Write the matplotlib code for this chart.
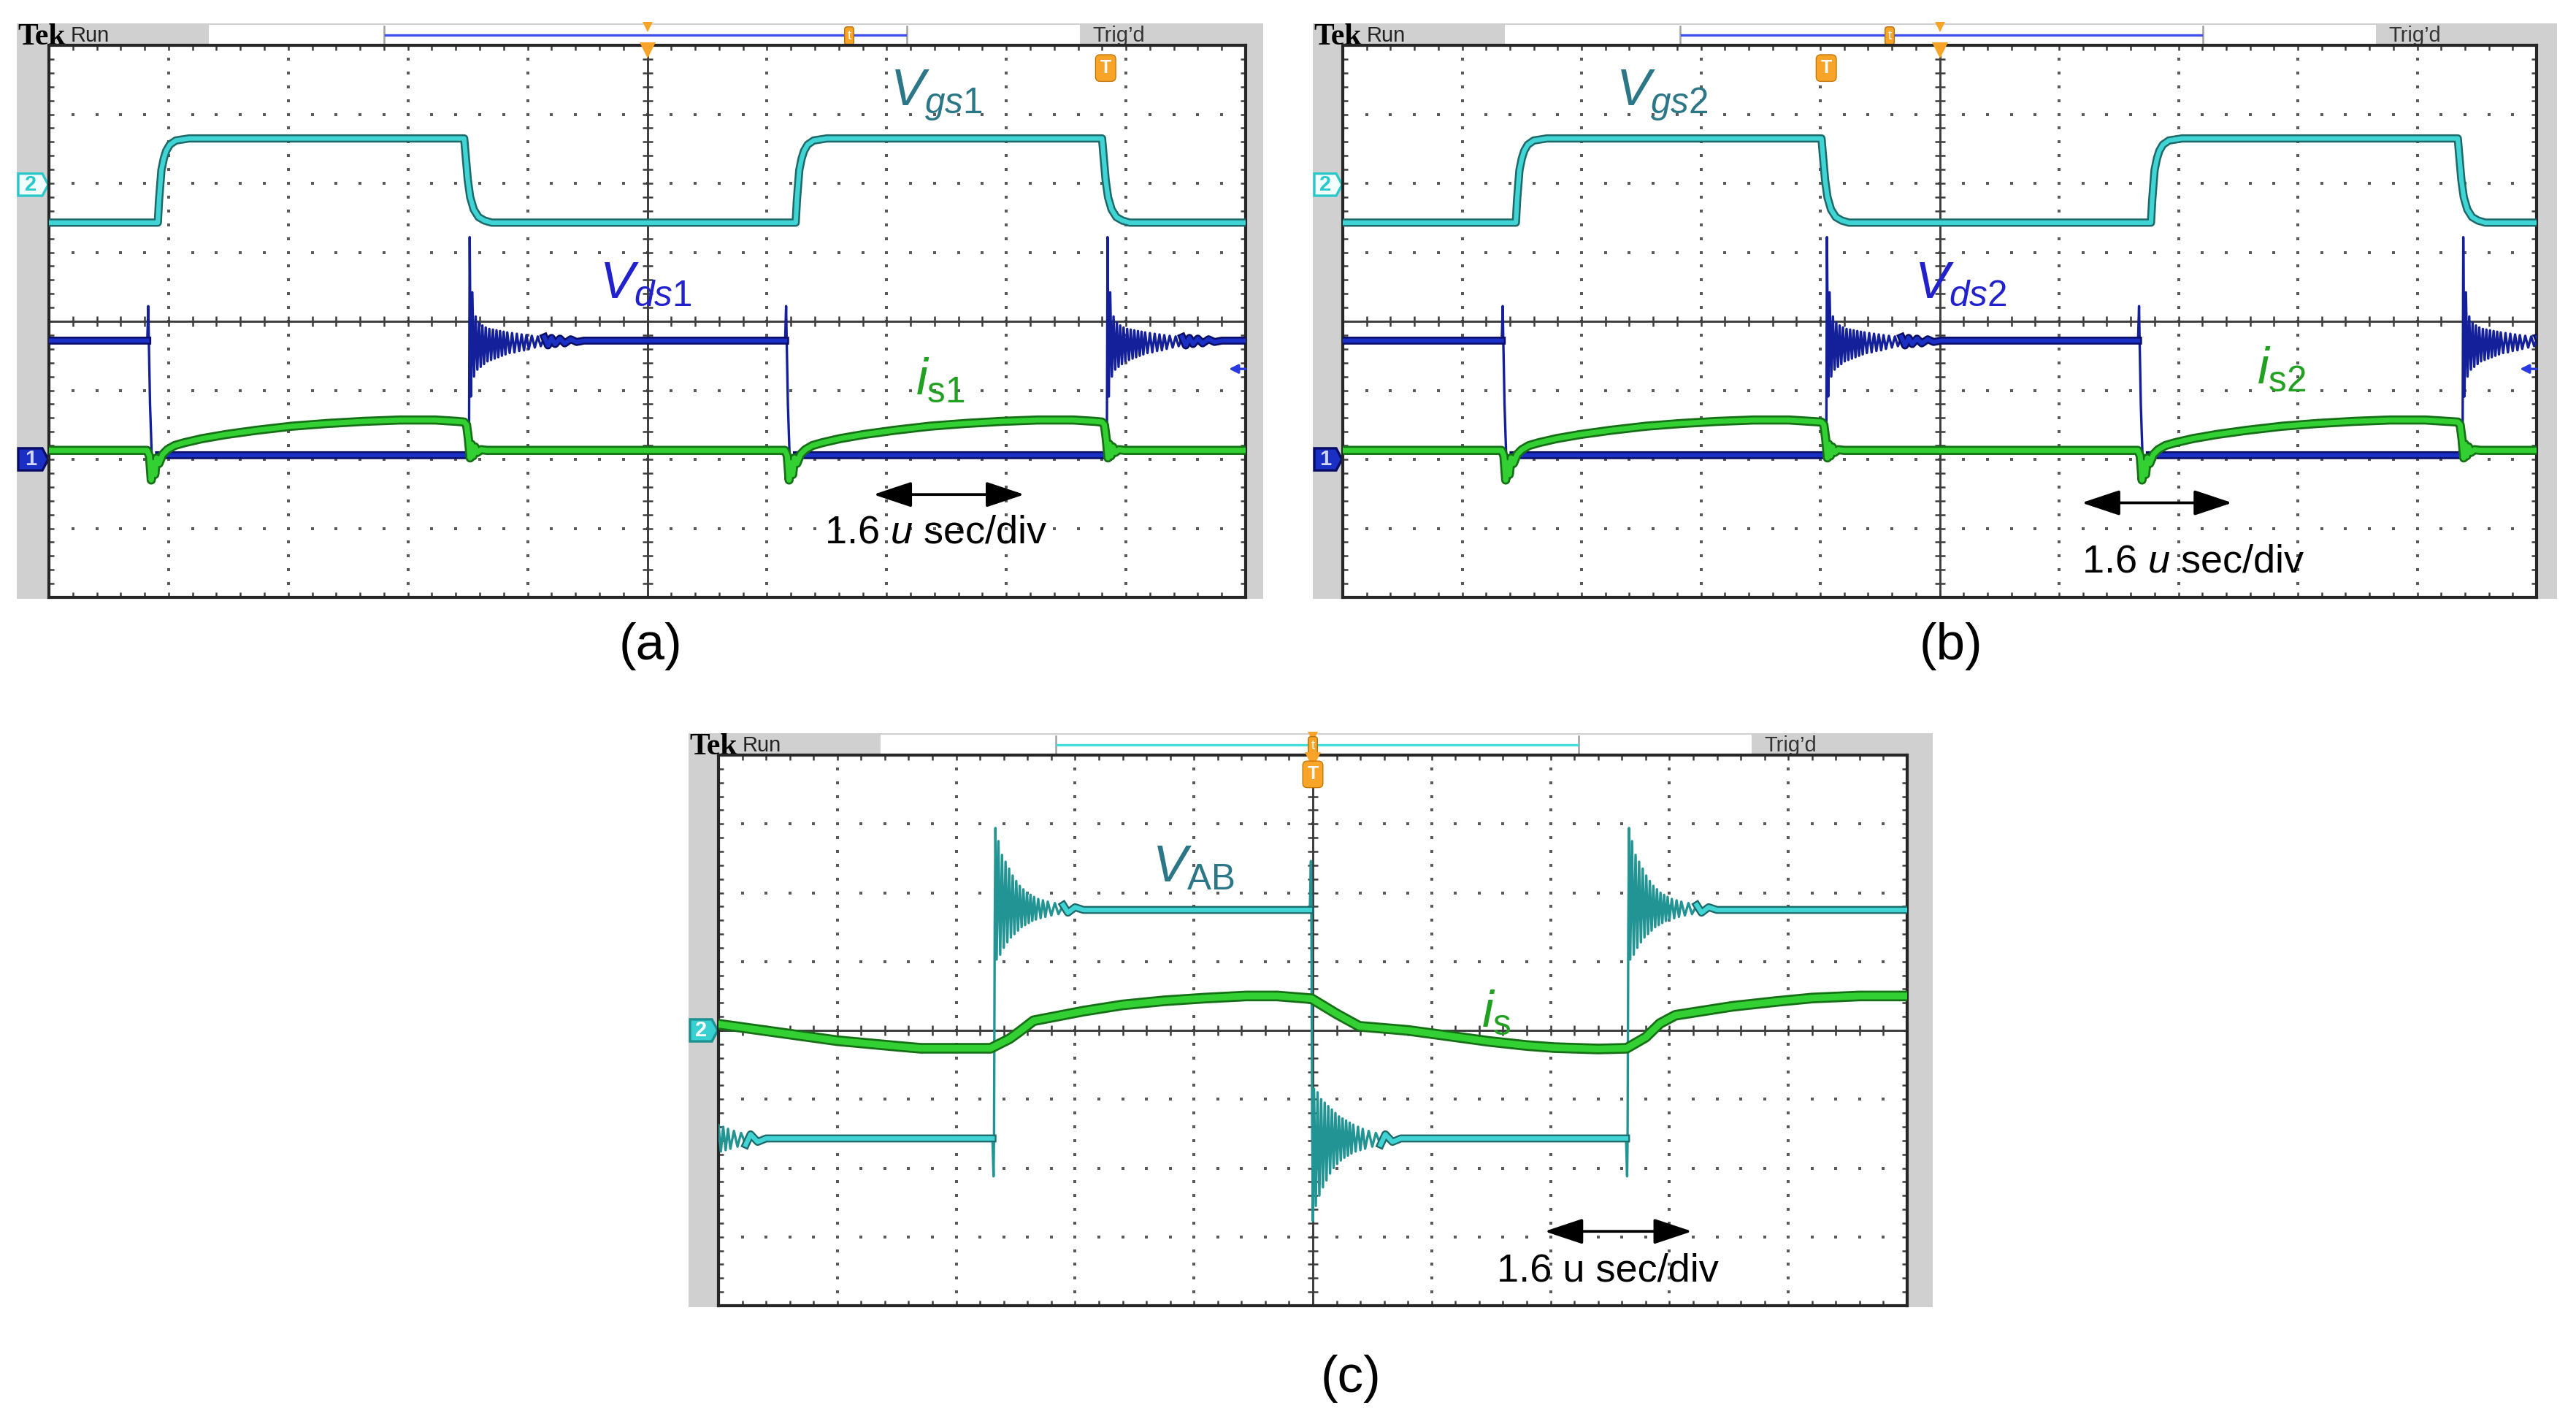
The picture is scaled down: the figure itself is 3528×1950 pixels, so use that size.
import numpy as np
import matplotlib
matplotlib.use('Agg')
import matplotlib.pyplot as plt
import matplotlib.patheffects as pe
from matplotlib.patches import Rectangle, Polygon
from matplotlib.transforms import blended_transform_factory as btf

# ---------------- data (units: screen divisions) ----------------
# x: 0..10 div (1.6 us/div); y: -4..4 div, 0 = centre line of the graticule
VGS_LOW, VGS_HIGH = 1.43, 2.65
VDS_HIGH, VDS_LOW = -0.28, -1.94
IS_BASE = -1.87
VAB_HIGH, VAB_LOW = 1.75, -1.57

# panel (a): edge times
A_VGS_RISE = [0.91, 6.24]
A_VGS_FALL = [3.47, 8.80]
A_VDS_FALL = [0.83, 6.16]
A_VDS_RISE = [3.51, 8.84]
# panel (b): edge times
B_VGS_RISE = [1.45, 6.77]
B_VGS_FALL = [4.01, 9.34]
B_VDS_FALL = [1.34, 6.67]
B_VDS_RISE = [4.05, 9.38]
# panel (c): edge times and primary current
C_VAB_RISE = [2.32, 7.65]
C_VAB_FALL = [-0.35, 4.99]
C_IS_X = [0.0, 0.5, 1.0, 1.5, 1.7, 2.29, 2.45, 2.53, 2.65, 3.07, 3.4, 3.75, 4.1, 4.44,
          4.7, 4.99, 5.2, 5.39, 5.8, 6.1, 6.48, 6.8, 7.03, 7.4, 7.64, 7.8, 7.92, 8.05,
          8.53, 8.9, 9.2, 9.6, 10.0]
C_IS_Y = [0.09, -0.03, -0.15, -0.23, -0.26, -0.26, -0.12, -0.02, 0.14, 0.28, 0.37, 0.43,
          0.47, 0.50, 0.50, 0.46, 0.24, 0.06, 0.0, -0.07, -0.16, -0.22, -0.25, -0.27,
          -0.26, -0.10, 0.10, 0.22, 0.35, 0.42, 0.47, 0.50, 0.50]

# edge shapes (offset from edge time, level)
VGS_RISE_DT = [0.0, 0.01, 0.03, 0.05, 0.07, 0.10, 0.15, 0.26]
VGS_RISE_Y = [1.43, 1.75, 2.19, 2.36, 2.47, 2.56, 2.62, 2.65]
VGS_FALL_DT = [0.0, 0.01, 0.03, 0.05, 0.08, 0.12, 0.17, 0.23]
VGS_FALL_Y = [2.65, 2.45, 2.05, 1.80, 1.62, 1.51, 1.46, 1.43]

VDS_FALL_DT = [-0.008, 0.0, 0.004, 0.015, 0.03, 0.09]
VDS_FALL_Y = [-0.28, 0.22, -0.20, -1.20, -2.00, -1.94]
VDS_RING_DT = [-0.006, 0.0, 0.006, 0.016, 0.028, 0.042, 0.056, 0.070, 0.084, 0.098, 0.112,
               0.126, 0.140, 0.155, 0.170, 0.185, 0.200, 0.215, 0.230, 0.245, 0.260, 0.275,
               0.290, 0.305, 0.320, 0.340, 0.360, 0.380, 0.400, 0.420, 0.440, 0.460, 0.480,
               0.500, 0.525, 0.550, 0.575, 0.600, 0.630, 0.660, 0.690, 0.720, 0.760, 0.800,
               0.850, 0.900, 0.960]
VDS_RING_Y = [-1.94, -2.02, 1.22, -1.09, 0.42, -0.80, 0.07, -0.70, -0.02, -0.66, -0.06,
              -0.62, -0.09, -0.58, -0.11, -0.56, -0.12, -0.54, -0.13, -0.52, -0.14, -0.50,
              -0.15, -0.48, -0.16, -0.46, -0.17, -0.45, -0.18, -0.43, -0.19, -0.42, -0.20,
              -0.40, -0.21, -0.38, -0.22, -0.36, -0.23, -0.35, -0.24, -0.33, -0.25, -0.32,
              -0.26, -0.30, -0.28]

IS_ON_DT = [-0.01, 0.01, 0.025, 0.04, 0.055, 0.07, 0.09, 0.12, 0.16, 0.22, 0.30, 0.45,
            0.65, 0.90, 1.20, 1.50, 1.80, 2.10, 2.40, 2.58]
IS_ON_Y = [-1.87, -1.95, -2.30, -2.05, -2.22, -1.98, -2.06, -1.93, -1.86, -1.80, -1.76,
           -1.70, -1.64, -1.58, -1.52, -1.48, -1.45, -1.43, -1.43, -1.45]
IS_OFF_DT = [-0.04, -0.02, -0.005, 0.01, 0.02, 0.035, 0.05, 0.07, 0.10, 0.15]
IS_OFF_Y = [-1.46, -1.50, -1.70, -1.98, -1.78, -1.95, -1.82, -1.90, -1.86, -1.87]

VAB_RISE_DT = [-0.015, -0.006, -0.002, 0.004, 0.010, 0.020, 0.035, 0.050, 0.065, 0.080,
               0.095, 0.110, 0.125, 0.140, 0.155, 0.170, 0.185, 0.200, 0.215, 0.230, 0.245,
               0.260, 0.275, 0.290, 0.305, 0.320, 0.335, 0.350, 0.370, 0.390, 0.410, 0.430,
               0.450, 0.480, 0.510, 0.540, 0.580, 0.620, 0.680, 0.750]
VAB_RISE_Y = [-1.57, -2.12, -1.55, 1.50, 2.94, 1.03, 2.75, 1.10, 2.55, 1.20, 2.45, 1.28,
              2.35, 1.35, 2.25, 1.40, 2.17, 1.45, 2.10, 1.50, 2.05, 1.53, 2.00, 1.56, 1.97,
              1.59, 1.94, 1.61, 1.91, 1.63, 1.89, 1.65, 1.87, 1.67, 1.85, 1.69, 1.82, 1.71,
              1.79, 1.75]
VAB_FALL_DT = VAB_RISE_DT
VAB_FALL_Y = [1.75, 2.46, 1.70, -1.20, -2.77, -0.85, -2.55, -0.90, -2.40, -1.00, -2.28,
              -1.05, -2.18, -1.10, -2.08, -1.15, -2.00, -1.20, -1.94, -1.25, -1.89, -1.28,
              -1.85, -1.31, -1.82, -1.34, -1.79, -1.37, -1.76, -1.40, -1.74, -1.43, -1.72,
              -1.46, -1.69, -1.49, -1.66, -1.51, -1.62, -1.57]

# ---------------- styling ----------------
W, H, DPI = 3528, 1950, 300
plt.rcParams['font.family'] = ['Liberation Sans', 'DejaVu Sans']
plt.rcParams['mathtext.fontset'] = 'custom'
plt.rcParams['mathtext.rm'] = 'Liberation Sans'
plt.rcParams['mathtext.it'] = 'Liberation Sans:italic'
plt.rcParams['mathtext.bf'] = 'Liberation Sans:bold'

CYAN, CYAN_E = '#40d4d4', '#1d6868'
BLUE, BLUE_E = '#1a2fc4', '#0a0d66'
GREEN, GREEN_E = '#33d033', '#157015'
ORANGE = '#f7a428'
TEAL_T, BLUE_T, GREEN_T = '#2c7787', '#2222cc', '#22a022'
GRAY = '#d0d0d0'

fig = plt.figure(figsize=(W / DPI, H / DPI), dpi=DPI)
bg = fig.add_axes([0, 0, 1, 1])
bg.set_xlim(0, W)
bg.set_ylim(H, 0)
bg.axis('off')


def build(start_y, events):
    xs, ys = [-1.0], [start_y]
    for t0, dts, vals in sorted(events, key=lambda e: e[0]):
        xs += [t0 + d for d in dts]
        ys += list(vals)
    xs.append(11.0)
    ys.append(ys[-1])
    return np.array(xs), np.array(ys)


def thick(ax, x, y, color, edge, lw, elw, z=3):
    ax.plot(x, y, color=color, lw=lw, solid_joinstyle='round', zorder=z,
            path_effects=[pe.Stroke(linewidth=elw, foreground=edge), pe.Normal()])


def masked(x, y, windows):
    m = np.zeros_like(x, dtype=bool)
    for a, b in windows:
        m |= (x > a) & (x < b)
    return np.ma.masked_where(m, y)


def panel(box, grat, line_color, trig_px, tmark_px):
    x0, y0, x1 = box
    gx0, gy0, gx1, gy1 = grat
    bg.add_patch(Rectangle((x0, y0), x1 - x0, gy1 + 2 - y0, fc=GRAY, ec='none', zorder=0))
    bg.add_patch(Rectangle((x0 + 263, y0 + 2), 1456 - 263, gy0 - y0 - 4, fc='white',
                           ec='none', zorder=1))
    ym = (y0 + gy0) / 2 + 1
    for bx in (x0 + 503, x0 + 1219):
        bg.plot([bx, bx], [y0 + 4, gy0 - 3], color='#a0a0a0', lw=0.6, zorder=2)
    bg.plot([x0 + 505, x0 + 1217], [ym, ym], color=line_color, lw=0.8, zorder=2)
    bg.text(x0 + 1, gy0 - 1, 'Tek', family=['Liberation Serif', 'DejaVu Serif'],
            weight='bold', fontsize=10, va='baseline', ha='left', zorder=3)
    bg.text(x0 + 74, gy0 - 5, 'Run', fontsize=7, color='#222222', va='baseline', zorder=3)
    bg.text(x0 + 1473, gy0 - 5, 'Trig\u2019d', fontsize=7, color='#333333',
            va='baseline', zorder=3)
    bg.plot([trig_px], [y0 + 5], marker='v', ms=3.5, color=ORANGE, mew=0, zorder=3)
    bg.text(tmark_px, ym + 1, 't', fontsize=4.5, color='white', ha='center', va='center',
            zorder=4, bbox=dict(boxstyle='round,pad=0.2', fc=ORANGE, ec='#b06a00', lw=0.3))
    ax = fig.add_axes([gx0 / W, 1 - gy1 / H, (gx1 - gx0) / W, (gy1 - gy0) / H])
    ax.set_xlim(0, 10)
    ax.set_ylim(-4, 4)
    ax.set_xticks([])
    ax.set_yticks([])
    for s in ax.spines.values():
        s.set_color('#262626')
        s.set_linewidth(1.0)
    fine = np.round(np.arange(1, 50) * 0.2, 2)
    fine_y = np.round(np.arange(1, 40) * 0.2 - 4, 2)
    gxs, gys = [], []
    for i in [1, 2, 3, 4, 6, 7, 8, 9]:
        gxs += [i] * len(fine_y)
        gys += list(fine_y)
    for j in [-3, -2, -1, 1, 2, 3]:
        gxs += list(fine)
        gys += [j] * len(fine)
    ax.plot(gxs, gys, ls='none', marker='s', ms=0.9, mew=0, color='#5a5a5a', zorder=1)
    for yy in (4, -4):
        ax.plot(fine, np.full_like(fine, yy), ls='none', marker='|', ms=3.2, mew=0.6,
                color='#404040', zorder=1)
    for xx in (0, 10):
        ax.plot(np.full_like(fine_y, xx), fine_y, ls='none', marker='_', ms=3.2, mew=0.6,
                color='#404040', zorder=1)
    ax.axhline(0, color='#3c3c3c', lw=0.7, zorder=1)
    ax.axvline(5, color='#3c3c3c', lw=0.7, zorder=1)
    ax.plot(fine, np.zeros_like(fine), ls='none', marker='|', ms=3.2, mew=0.6,
            color='#3c3c3c', zorder=1)
    ax.plot(np.full_like(fine_y, 5), fine_y, ls='none', marker='_', ms=3.2, mew=0.6,
            color='#3c3c3c', zorder=1)
    ax.plot([5], [3.93], marker='v', ms=5.5, color=ORANGE, mew=0, zorder=6, clip_on=False)
    return ax


def ch_marker(ax, x0, gx0, yv, num, fill, edge, tcol):
    tr = btf(bg.transData, ax.transData)
    pts = [(x0 + 2, yv - 0.16), (gx0 - 9, yv - 0.16), (gx0 - 1, yv), (gx0 - 9, yv + 0.16),
           (x0 + 2, yv + 0.16)]
    bg.add_patch(Polygon(pts, closed=True, fc=fill, ec=edge, lw=0.8, transform=tr, zorder=5))
    bg.text((x0 + gx0) / 2 - 3, yv, num, color=tcol, fontsize=7, fontweight='bold',
            ha='center', va='center', transform=tr, zorder=6)


def trig_T(ax, x, y):
    ax.text(x, y, 'T', fontsize=6, fontweight='bold', color='white', ha='center',
            va='center', zorder=7,
            bbox=dict(boxstyle='round,pad=0.25', fc=ORANGE, ec='#c07000', lw=0.3))


def dbl_arrow(ax, xa, xb, y):
    ax.annotate('', xy=(xb, y), xytext=(xa, y), zorder=6,
                arrowprops=dict(arrowstyle='<|-|>,head_length=0.6,head_width=0.2',
                                mutation_scale=18, color='black', lw=0.9,
                                shrinkA=0, shrinkB=0))


def switch_panel(ax, vgs_r, vgs_f, vds_f, vds_r):
    ev = [(t, VGS_RISE_DT, VGS_RISE_Y) for t in vgs_r] + \
         [(t, VGS_FALL_DT, VGS_FALL_Y) for t in vgs_f]
    x, y = build(VGS_LOW, ev)
    thick(ax, x, y, CYAN, CYAN_E, 1.5, 2.7)
    ev = [(t, VDS_FALL_DT, VDS_FALL_Y) for t in vds_f] + \
         [(t, VDS_RING_DT, VDS_RING_Y) for t in vds_r]
    x, y = build(VDS_HIGH, ev)
    ax.plot(x, y, color='#14209a', lw=0.8, zorder=3)
    win = [(t - 0.005, t + 0.08) for t in vds_f] + [(t - 0.003, t + 0.61) for t in vds_r]
    thick(ax, x, masked(x, y, win), BLUE, BLUE_E, 1.4, 2.6)
    ev = [(t, IS_ON_DT, IS_ON_Y) for t in vds_f] + \
         [(t, IS_OFF_DT, IS_OFF_Y) for t in vds_r]
    x, y = build(IS_BASE, ev)
    thick(ax, x, y, GREEN, GREEN_E, 1.7, 3.0, z=4)
    ax.annotate('', xy=(9.86, -0.69), xytext=(10.0, -0.69), zorder=6,
                arrowprops=dict(arrowstyle='-|>', color='#2a3ae0', lw=0.8,
                                mutation_scale=6, shrinkA=0, shrinkB=0))


# ---------------- panel (a) ----------------
axa = panel((23, 32, 1730), (67, 62, 1706, 818), '#3f4fe8', 887, 1163)
switch_panel(axa, A_VGS_RISE, A_VGS_FALL, A_VDS_FALL, A_VDS_RISE)
ch_marker(axa, 23, 67, 1.98, '2', '#f2ffff', '#2ac8c8', '#2ac8c8')
ch_marker(axa, 23, 67, -2.0, '1', '#1a2fc4', '#0a0d66', '#cfd6ff')
trig_T(axa, 8.83, 3.67)
axa.text(7.03, 3.13, r'$V_{\mathit{gs1}}$', color=TEAL_T, fontsize=17, va='baseline')
axa.text(4.60, 0.34, r'$V_{\mathit{ds1}}$', color=BLUE_T, fontsize=17, va='baseline')
axa.text(7.24, -1.06, r'$i_{\mathrm{s1}}$', color=GREEN_T, fontsize=17, va='baseline')
dbl_arrow(axa, 6.89, 8.15, -2.51)
axa.text(6.48, -3.21, r'1.6 $\mathit{u}$ sec/div', fontsize=13, va='baseline')

# ---------------- panel (b) ----------------
axb = panel((1798, 32, 3502), (1839, 62, 3474, 818), '#3f4fe8', 2657, 2588)
switch_panel(axb, B_VGS_RISE, B_VGS_FALL, B_VDS_FALL, B_VDS_RISE)
ch_marker(axb, 1798, 1839, 1.98, '2', '#f2ffff', '#2ac8c8', '#2ac8c8')
ch_marker(axb, 1798, 1839, -2.0, '1', '#1a2fc4', '#0a0d66', '#cfd6ff')
trig_T(axb, 4.05, 3.67)
axb.text(2.29, 3.13, r'$V_{\mathit{gs2}}$', color=TEAL_T, fontsize=17, va='baseline')
axb.text(4.79, 0.34, r'$V_{\mathit{ds2}}$', color=BLUE_T, fontsize=17, va='baseline')
axb.text(7.66, -0.90, r'$i_{\mathrm{s2}}$', color=GREEN_T, fontsize=17, va='baseline')
dbl_arrow(axb, 6.19, 7.45, -2.63)
axb.text(6.19, -3.64, r'1.6 $\mathit{u}$ sec/div', fontsize=13, va='baseline')

# ---------------- panel (c) ----------------
axc = panel((943, 1004, 2647), (984, 1034, 2612, 1788), '#44dede', 1798, 1798)
ev = [(t, VAB_RISE_DT, VAB_RISE_Y) for t in C_VAB_RISE] + \
     [(t, VAB_FALL_DT, VAB_FALL_Y) for t in C_VAB_FALL]
xv, yv = build(VAB_HIGH, ev)
axc.plot(xv, yv, color='#239494', lw=0.8, zorder=3)
winc = [(t - 0.01, t + 0.56) for t in C_VAB_RISE + C_VAB_FALL]
thick(axc, xv, masked(xv, yv, winc), CYAN, CYAN_E, 1.5, 2.6)
thick(axc, C_IS_X, C_IS_Y, GREEN, GREEN_E, 2.2, 3.5, z=4)
ch_marker(axc, 943, 984, 0.0, '2', '#38d0d0', '#1d9090', 'white')
trig_T(axc, 5.0, 3.72)
axc.text(3.65, 2.16, r'$V_{\mathrm{AB}}$', color=TEAL_T, fontsize=17, va='baseline')
axc.text(6.42, 0.05, r'$i_{\mathrm{s}}$', color=GREEN_T, fontsize=17, va='baseline')
dbl_arrow(axc, 6.95, 8.19, -2.92)
axc.text(6.55, -3.64, '1.6 u sec/div', fontsize=13, va='baseline')

# ---------------- captions ----------------
bg.text(891, 885, '(a)', fontsize=17, ha='center', va='center')
bg.text(2672, 885, '(b)', fontsize=17, ha='center', va='center')
bg.text(1850, 1888, '(c)', fontsize=17, ha='center', va='center')

fig.savefig('out.png', dpi=DPI)
